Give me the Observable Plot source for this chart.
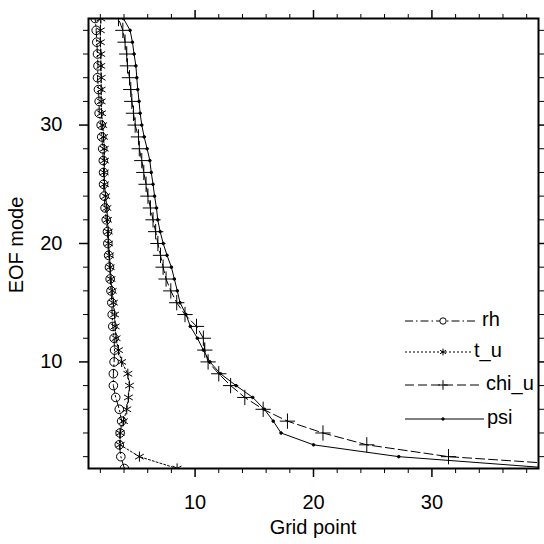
<!DOCTYPE html>
<html><head><meta charset="utf-8">
<script src="https://cdn.jsdelivr.net/npm/d3@7"></script>
<script src="https://cdn.jsdelivr.net/npm/@observablehq/plot@0.6"></script>
<style>body{margin:0;background:#fff;} #chart svg{display:block;}</style>
</head><body><div id="chart"></div>
<script>
// EOF mode (y) for every point
const modes = [1,2,3,4,5,6,7,8,9,10,11,12,13,14,15,16,17,18,19,20,21,22,23,24,25,26,27,28,29,30,31,32,33,34,35,36,37,38,39];
// Grid point (x) per series
const rh   = [4.03,3.73,3.6,3.67,3.8,3.6,3.3,3.1,3.1,3.16,3.2,3.16,3.05,3.0,2.97,2.9,2.83,2.77,2.7,2.63,2.6,2.5,2.4,2.32,2.27,2.27,2.25,2.2,2.12,2.07,1.9,1.9,1.84,1.76,1.8,1.76,1.7,1.65,1.56];
const t_u  = [8.48,5.3,3.67,3.67,3.95,4.23,4.37,4.46,4.32,3.8,3.53,3.33,3.25,3.2,3.1,3.0,2.9,2.83,2.77,2.7,2.67,2.6,2.55,2.45,2.35,2.33,2.35,2.33,2.27,2.2,2.1,2.07,2.07,2.07,2.04,2.04,2.0,2.0,2.04];
const chi_u= [46.5,31.4,24.5,20.8,17.8,15.75,14.2,13.0,12.0,11.1,10.82,10.7,10.12,9.15,8.45,7.95,7.55,7.3,7.08,6.86,6.67,6.45,6.23,6.02,5.86,5.67,5.5,5.29,5.22,4.94,4.8,4.66,4.57,4.46,4.29,4.23,4.09,3.9,3.53];
const psi  = [40.5,27.2,20.0,17.26,16.6,15.85,14.87,13.46,12.15,11.25,10.7,10.2,9.6,9.24,8.73,8.5,8.25,8.0,7.63,7.31,7.05,6.85,6.74,6.58,6.45,6.3,6.18,5.95,5.7,5.5,5.36,5.27,5.16,5.08,5.0,4.85,4.71,4.51,3.95];
const seriesNames = ["rh","t_u","chi_u","psi"];
const minorTicks = [2,4,6,8,12,14,16,18,22,24,26,28,32,34,36,38];
const majorTicks = [10,20,30];
const xTitle = "Grid point";
const yTitle = "EOF mode";

const values = {rh, t_u, chi_u, psi};
const styles = {
  rh:    {dash: "8,3,1.5,3", symbol: "circle",   r: 4.3, fill: "none"},
  t_u:   {dash: "2,2",       symbol: "asterisk", r: 4.8, fill: "none"},
  chi_u: {dash: "9,4",       symbol: "plus",     r: 5,   fill: "none"},
  psi:   {dash: null,        symbol: "circle",   r: 1.3, fill: "black"}
};
const tables = Object.fromEntries(seriesNames.map(n => [n, modes.map((m, i) => ({mode: m, gp: values[n][i]}))]));

const marks = [];
for (const n of seriesNames) {
  const s = styles[n];
  marks.push(Plot.line(tables[n], {x: "gp", y: "mode", stroke: "black", strokeWidth: 1, strokeDasharray: s.dash, clip: true}));
  marks.push(Plot.dot(tables[n], {x: "gp", y: "mode", symbol: s.symbol, r: s.r, fill: s.fill, stroke: "black", strokeWidth: 1, clip: true}));
}
const blank = () => "";
marks.push(
  Plot.axisX({anchor: "bottom", ticks: minorTicks, tickSize: 5, tickFormat: blank, label: null, strokeWidth: 1}),
  Plot.axisX({anchor: "bottom", ticks: majorTicks, tickSize: 9, tickPadding: 17, label: null, strokeWidth: 1.5}),
  Plot.axisX({anchor: "top", ticks: minorTicks, tickSize: 5, tickFormat: blank, label: null, strokeWidth: 1}),
  Plot.axisX({anchor: "top", ticks: majorTicks, tickSize: 9, tickFormat: blank, label: null, strokeWidth: 1.5}),
  Plot.axisY({anchor: "left", ticks: minorTicks, tickSize: 5, tickFormat: blank, label: null, strokeWidth: 1}),
  Plot.axisY({anchor: "left", ticks: majorTicks, tickSize: 9, tickPadding: 17, label: null, strokeWidth: 1.5}),
  Plot.axisY({anchor: "right", ticks: minorTicks, tickSize: 5, tickFormat: blank, label: null, strokeWidth: 1}),
  Plot.axisY({anchor: "right", ticks: majorTicks, tickSize: 9, tickFormat: blank, label: null, strokeWidth: 1.5}),
  Plot.frame({stroke: "black", strokeWidth: 2})
);

const chart = Plot.plot({
  width: 544, height: 544,
  marginLeft: 88, marginRight: 6, marginTop: 18, marginBottom: 76,
  x: {domain: [1, 39]},
  y: {domain: [1, 39]},
  style: {fontFamily: "'Liberation Sans', Arial, Helvetica, sans-serif", fontSize: "20px", color: "black", background: "white"},
  marks
});

const svg = d3.select(chart);
// axis titles
svg.append("text").attr("x", 313).attr("y", 529).attr("text-anchor", "middle").attr("dominant-baseline", "middle")
  .attr("font-size", 20).attr("fill", "black").text(xTitle);
svg.append("text").attr("transform", "translate(18,245) rotate(-90)").attr("text-anchor", "middle").attr("dominant-baseline", "middle")
  .attr("font-size", 20).attr("fill", "black").text(yTitle);

// legend
const legY = {rh: 321, t_u: 352, chi_u: 385, psi: 419};
const legLineEnd = {rh: 477, t_u: 471, chi_u: 482, psi: 484};
const legTextX = {rh: 482, t_u: 474, chi_u: 486, psi: 487};
const symMap = {circle: d3.symbolCircle, asterisk: d3.symbolAsterisk, plus: d3.symbolPlus};
const lg = svg.append("g");
for (const n of seriesNames) {
  const s = styles[n], y = legY[n];
  lg.append("line").attr("x1", 405).attr("x2", legLineEnd[n]).attr("y1", y).attr("y2", y)
    .attr("stroke", "black").attr("stroke-width", 1).attr("stroke-dasharray", s.dash);
  const rr = n === "psi" ? 1.2 : 3.2;
  lg.append("path").attr("transform", `translate(443,${y})`)
    .attr("d", d3.symbol(symMap[s.symbol], Math.PI * rr * rr)())
    .attr("fill", n === "psi" ? "black" : (n === "rh" ? "white" : "none")).attr("stroke", "black").attr("stroke-width", 1);
  lg.append("text").attr("x", legTextX[n]).attr("y", y).attr("text-anchor", "start").attr("dominant-baseline", "middle")
    .attr("font-size", 20).attr("fill", "black").text(n);
}
document.getElementById("chart").append(chart);
</script>
</body></html>
